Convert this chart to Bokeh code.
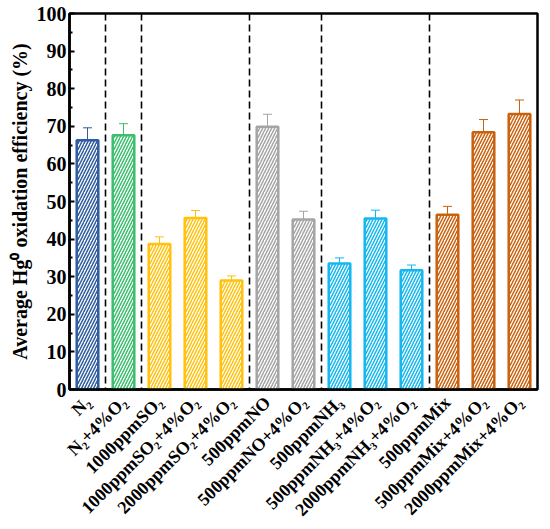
from bokeh.plotting import figure
from bokeh.models import ColumnDataSource, Whisker, TeeHead, Span, FixedTicker, Range1d
from bokeh.embed import file_html
from bokeh.resources import INLINE
import math

categories = ["N₂", "N₂+4%O₂", "1000ppmSO₂", "1000ppmSO₂+4%O₂", "2000ppmSO₂+4%O₂",
              "500ppmNO", "500ppmNO+4%O₂", "500ppmNH₃", "500ppmNH₃+4%O₂",
              "2000ppmNH₃+4%O₂", "500ppmMix", "500ppmMix+4%O₂", "2000ppmMix+4%O₂"]
efficiency = [66.3, 67.6, 38.7, 45.6, 29.0, 69.9, 45.2, 33.5, 45.5, 31.7, 46.5, 68.4, 73.3]
errors = [3.3, 3.1, 1.9, 2.0, 1.2, 3.3, 2.2, 1.5, 2.2, 1.4, 2.2, 3.4, 3.7]
group_sizes = [1, 1, 3, 2, 3, 3]
group_colors = ["#2E5C9E", "#3DBE6F", "#FFC20E", "#A5A5A5", "#14B8EE", "#C9620F"]

colors = []
for n, c in zip(group_sizes, group_colors):
    colors += [c] * n

src = ColumnDataSource(dict(
    x=categories, top=efficiency, color=colors,
    upper=[v + e for v, e in zip(efficiency, errors)],
    lower=[v - e for v, e in zip(efficiency, errors)],
))

FONT = "Liberation Serif"

p = figure(x_range=categories, y_range=Range1d(0, 100), output_backend="svg",
           toolbar_location=None, width=550, height=529,
           min_border_top=13, min_border_right=13, min_border_left=69, min_border_bottom=139)

p.vbar(x="x", top="top", width=0.6, source=src, fill_color="white", line_color="color",
       line_width=2.5, hatch_pattern="/", hatch_color="color", hatch_scale=6, hatch_weight=1.5)

w = Whisker(base="x", upper="upper", lower="lower", source=src, line_color="color", line_width=1,
            upper_head=TeeHead(size=9, line_color="color", line_width=1),
            lower_head=TeeHead(size=9, line_color="color", line_width=1))
p.add_layout(w)

pos = 0
for n in group_sizes[:-1]:
    pos += n
    p.add_layout(Span(location=pos, dimension="height", line_color="black",
                      line_width=1.6, line_dash="7 4"))

p.xgrid.visible = False
p.ygrid.visible = False
p.outline_line_color = "black"
p.outline_line_width = 2.5
p.x_range.range_padding = 0.0

p.yaxis.ticker = FixedTicker(ticks=list(range(0, 101, 10)), minor_ticks=list(range(5, 100, 10)))
p.yaxis.major_tick_in = 5
p.yaxis.major_tick_out = 0
p.yaxis.minor_tick_in = 3
p.yaxis.minor_tick_out = 0
p.yaxis.major_tick_line_width = 2
p.yaxis.minor_tick_line_width = 2
p.yaxis.axis_line_width = 2.5
p.yaxis.axis_line_color = "black"
p.yaxis.major_tick_line_color = "black"
p.yaxis.minor_tick_line_color = "black"
p.yaxis.axis_label = "Average Hg⁰ oxidation efficiency (%)"
p.yaxis.axis_label_text_font = FONT
p.yaxis.axis_label_text_font_style = "bold"
p.yaxis.axis_label_text_font_size = "20px"
p.yaxis.axis_label_text_color = "black"
p.yaxis.axis_label_standoff = 3
p.yaxis.major_label_text_font = FONT
p.yaxis.major_label_text_font_style = "bold"
p.yaxis.major_label_text_font_size = "20px"
p.yaxis.major_label_text_color = "black"
p.yaxis.major_label_standoff = 3

p.xaxis.major_tick_line_color = None
p.xaxis.minor_tick_line_color = None
p.xaxis.axis_line_width = 2.5
p.xaxis.axis_line_color = "black"
p.xaxis.major_label_orientation = math.pi / 4
p.xaxis.major_label_text_font = FONT
p.xaxis.major_label_text_font_style = "bold"
p.xaxis.major_label_text_font_size = "18px"
p.xaxis.major_label_text_color = "black"
p.xaxis.major_label_standoff = 4

open("out.html", "w").write(file_html(p, INLINE))
